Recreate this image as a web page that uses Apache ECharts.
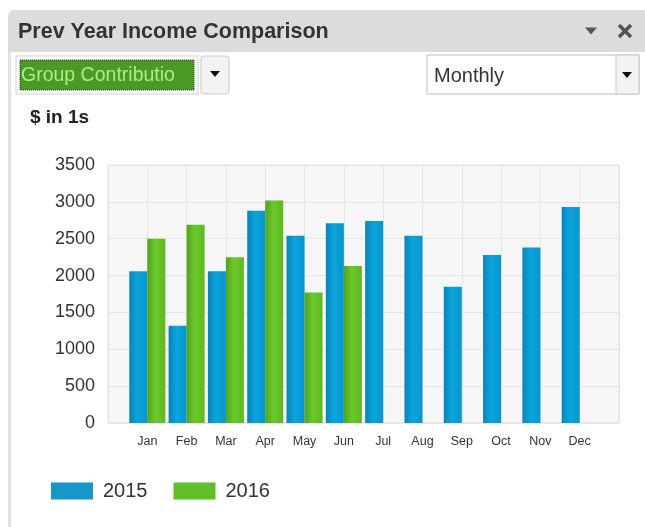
<!DOCTYPE html>
<html>
<head>
<meta charset="utf-8">
<script src="https://cdn.jsdelivr.net/npm/echarts@6/dist/echarts.min.js"></script>
<style>
  html, body { margin: 0; padding: 0; background: #fff; }
  #main { width: 645px; height: 527px; }
</style>
</head>
<body>
<div id="main"></div>
<script>
// values ($ in 1s)
const months = ['Jan', 'Feb', 'Mar', 'Apr', 'May', 'Jun', 'Jul', 'Aug', 'Sep', 'Oct', 'Nov', 'Dec'];
const income2015 = [2060, 1320, 2060, 2880, 2540, 2710, 2740, 2540, 1850, 2280, 2380, 2930];
const income2016 = [2500, 2690, 2250, 3020, 1770, 2130];
const yTicks = [0, 500, 1000, 1500, 2000, 2500, 3000, 3500];

const FONT = '"Liberation Sans", Arial, sans-serif';

// the plot keeps one empty slot on each side of the months
const axisCats = [''].concat(months, ['']);
const pad = (arr) => {
    const out = [null];
    for (let i = 0; i < months.length; i++) out.push(i < arr.length ? arr[i] : null);
    out.push(null);
    return out;
};

const blue = {
    type: 'linear', x: 0, y: 0, x2: 1, y2: 0,
    colorStops: [{offset: 0, color: '#0783b9'}, {offset: 0.45, color: '#0ba6dd'}, {offset: 1, color: '#0895cc'}]
};
const green = {
    type: 'linear', x: 0, y: 0, x2: 1, y2: 0,
    colorStops: [{offset: 0, color: '#4ea51c'}, {offset: 0.45, color: '#6cc82a'}, {offset: 1, color: '#5db823'}]
};

const tri = (cx, cy, w, h, fill) => ({
    type: 'polygon',
    shape: {points: [[cx - w / 2, cy - h / 2], [cx + w / 2, cy - h / 2], [cx, cy + h / 2]]},
    style: {fill: fill}
});

const chart = echarts.init(document.getElementById('main'));

const option = {
    backgroundColor: '#fff',
    animation: false,
    textStyle: {fontFamily: FONT},
    graphic: [
        // panel frame + header
        {type: 'rect', shape: {x: 8, y: 40, width: 3, height: 487}, style: {fill: '#e2e2e2'}},
        {type: 'rect', shape: {x: 8, y: 10, width: 640, height: 42, r: [6, 0, 0, 0]}, style: {fill: '#dcdcdc'}},
        {type: 'text', x: 18, y: 32, style: {text: 'Prev Year Income Comparison', font: 'bold 21.5px ' + FONT, fill: '#333', verticalAlign: 'middle'}},
        tri(591, 31, 12, 7, '#555'),
        {type: 'line', shape: {x1: 619, y1: 25, x2: 631, y2: 37}, style: {stroke: '#555', lineWidth: 3.5}},
        {type: 'line', shape: {x1: 631, y1: 25, x2: 619, y2: 37}, style: {stroke: '#555', lineWidth: 3.5}},

        // group select
        {type: 'rect', shape: {x: 16, y: 56, width: 182, height: 38}, style: {fill: '#fff', stroke: '#cfcfcf', lineWidth: 1}},
        {type: 'rect', shape: {x: 20, y: 60, width: 174, height: 30}, style: {fill: '#4b9a25', stroke: '#1e3d10', lineWidth: 1, lineDash: [1, 1]}},
        {type: 'text', x: 21, y: 76, style: {text: 'Group Contributio', font: '19.5px ' + FONT, fill: '#a9ec8c', verticalAlign: 'middle'}},
        {type: 'rect', shape: {x: 201, y: 56, width: 28, height: 38, r: 3}, style: {fill: '#f3f3f3', stroke: '#c8c8c8', lineWidth: 1}},
        tri(215, 74, 10, 6, '#111'),

        // period select
        {type: 'rect', shape: {x: 427, y: 55, width: 212, height: 39}, style: {fill: '#fff', stroke: '#bdbdbd', lineWidth: 1}},
        {type: 'rect', shape: {x: 616, y: 55, width: 23, height: 39}, style: {fill: '#f3f3f3', stroke: '#c8c8c8', lineWidth: 1}},
        {type: 'text', x: 434, y: 76, style: {text: 'Monthly', font: '20px ' + FONT, fill: '#333', verticalAlign: 'middle'}},
        tri(627, 75, 10, 6, '#111'),

        // unit caption
        {type: 'text', x: 30, y: 118, style: {text: '$ in 1s', font: 'bold 19px ' + FONT, fill: '#222', verticalAlign: 'middle'}}
    ],
    grid: {
        left: 108, right: 26, top: 165, bottom: 104,
        show: true, backgroundColor: '#f6f6f6', borderColor: '#e3e3e3', borderWidth: 1
    },
    legend: {
        left: 51, top: 481, padding: 0,
        icon: 'rect', itemWidth: 42, itemHeight: 17, itemGap: 26,
        data: [
            {name: '2015', itemStyle: {color: '#1598c8'}},
            {name: '2016', itemStyle: {color: '#62be28'}}
        ],
        textStyle: {fontSize: 20, color: '#333', fontFamily: FONT, padding: [0, 0, 0, 5]}
    },
    xAxis: {
        type: 'category',
        data: axisCats,
        boundaryGap: false,
        axisLine: {show: false},
        axisTick: {show: false},
        splitLine: {show: true, lineStyle: {color: '#e4e4e4'}},
        axisLabel: {interval: 0, fontSize: 12.5, color: '#333', margin: 12}
    },
    yAxis: {
        type: 'value',
        min: yTicks[0],
        max: yTicks[yTicks.length - 1],
        interval: yTicks[1] - yTicks[0],
        axisLine: {show: false},
        axisTick: {show: false},
        splitLine: {lineStyle: {color: '#e4e4e4'}},
        axisLabel: {fontSize: 18, color: '#333', margin: 13, formatter: (v) => String(v)}
    },
    series: [
        {name: '2015', type: 'bar', data: pad(income2015), barWidth: 18, barGap: '0%', itemStyle: {color: blue}},
        {name: '2016', type: 'bar', data: pad(income2016), barWidth: 18, itemStyle: {color: green}}
    ]
};

chart.setOption(option);
</script>
</body>
</html>
